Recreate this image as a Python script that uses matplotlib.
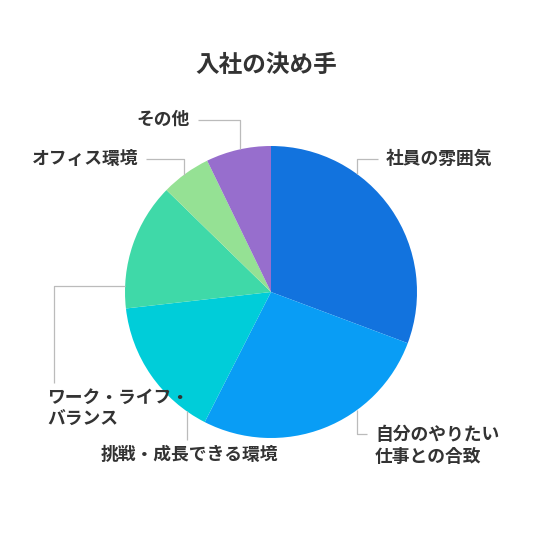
import numpy as np
import matplotlib
matplotlib.use("Agg")
import matplotlib.pyplot as plt

plt.rcParams["font.family"] = ["Noto Sans CJK JP", "DejaVu Sans"]

title = "入社の決め手"
labels = ["社員の雰囲気", "自分のやりたい\n仕事との合致", "挑戦・成長できる環境",
          "ワーク・ライフ・\nバランス", "オフィス環境", "その他"]
values = [30.7, 26.8, 15.7, 14.1, 5.5, 7.2]
colors = ["#1273DE", "#099DF5", "#00CDD9", "#3FD9A8", "#95E194", "#976ECD"]

W = H = 540
CX, CY, R = 271, 248, 146
TEXT = "#333333"
LINE = "#BBBBBB"

fig = plt.figure(figsize=(5.4, 5.4), dpi=100)
ax = fig.add_axes([0, 0, 1, 1])

ax.pie(values, colors=colors, startangle=90, counterclock=False,
       center=(CX, CY), radius=R, wedgeprops=dict(linewidth=0))
ax.set_xlim(0, W)
ax.set_ylim(0, H)
ax.set_aspect("equal")
ax.axis("off")

fig.text(266 / W, 1 - 65 / H, title, ha="center", va="center", fontsize=17,
         fontweight="bold", color=TEXT)


def edge_y(x, upper):
    d = np.sqrt(R ** 2 - (x - CX) ** 2)
    return CY + d if upper else CY - d


def edge_x(y):
    return CX - np.sqrt(R ** 2 - (y - CY) ** 2)


# leader lines: (xs, ys) and label placement
leaders = [
    ([378, 357, 357], [381, 381, edge_y(357, True)], (386, 381, "left")),
    ([367, 357, 357], [106, 106, edge_y(357, False)], (375, 94, "left")),
    ([187, 187], [edge_y(187, False), 100], (189, 85, "center")),
    ([edge_x(254), 54, 54], [254, 254, 157], (47, 131, "left")),
    ([146, 184, 184], [381, 381, edge_y(184, True)], (138, 381, "right")),
    ([198, 240, 240], [420, 420, edge_y(240, True)], (190, 420, "right")),
]

for label, (xs, ys, (tx, ty, ha)) in zip(labels, leaders):
    ax.plot(xs, ys, color=LINE, lw=0.9, solid_capstyle="butt")
    ax.text(tx, ty, label, ha=ha, va="center", fontsize=12.8,
            fontweight="bold", color=TEXT, linespacing=1.3)

fig.savefig("out.png", dpi=100, facecolor="white")
